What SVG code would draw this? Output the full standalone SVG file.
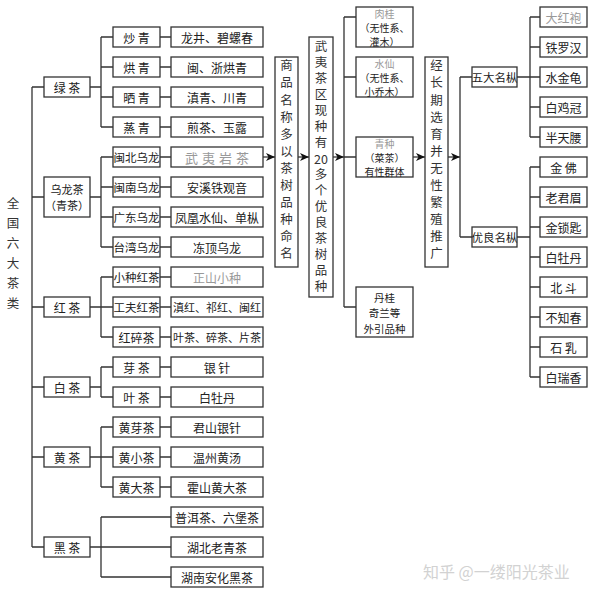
<svg xmlns="http://www.w3.org/2000/svg" width="600" height="594" viewBox="0 0 600 594">
<style>
.b{fill:#fff;stroke:#333;stroke-width:1.3}
.t{font-family:"Noto Sans CJK SC","Noto Sans CJK TC",sans-serif;font-size:12px;fill:#222;text-anchor:middle;dominant-baseline:central}
.s{font-size:11.5px}
.n{font-size:11px}
.m{font-size:10px}
.v{font-size:12.5px;fill:#333}
.vr{writing-mode:vertical-rl;text-orientation:upright}
.g{fill:#999}
.c{fill:none;stroke:#333;stroke-width:1.3}
.w{font-family:"Noto Sans CJK SC",sans-serif;font-size:16px;fill:#d2d2d2}
</style>
<defs>
<marker id="ah" markerUnits="userSpaceOnUse" markerWidth="10" markerHeight="9" refX="9" refY="4" orient="auto">
<path d="M0,0 L9,4 L0,8 L2.5,4 z" fill="#111"/>
</marker>
</defs>
<rect width="600" height="594" fill="#fff"/>

<g id="connectors">
<path class="c" d="M32,87 V547 M32,87 H44 M32,197 H44 M32,307 H44 M32,387 H44 M32,457 H44 M32,547 H44"/>
<path class="c" d="M90,87 H101 M101,37 V127 M101,37 H113 M101,67 H113 M101,97 H113 M101,127 H113"/>
<path class="c" d="M90,197 H101 M101,157 V247 M101,157 H113 M101,187 H113 M101,217 H113 M101,247 H113"/>
<path class="c" d="M90,307 H101 M101,277 V337 M101,277 H113 M101,307 H113 M101,337 H113"/>
<path class="c" d="M90,387 H101 M101,367 V397 M101,367 H113 M101,397 H113"/>
<path class="c" d="M90,457 H101 M101,427 V487 M101,427 H113 M101,457 H113 M101,487 H113"/>
<path class="c" d="M90,547 H101 M101,517 V577 M101,517 H171 M101,547 H171 M101,577 H171"/>
<path class="c" d="M160,37 H171 M160,67 H171 M160,97 H171 M160,127 H171 M160,157 H171 M160,187 H171 M160,217 H171 M160,247 H171 M160,277 H171 M160,307 H171 M160,337 H171 M160,367 H171 M160,397 H171 M160,427 H171 M160,457 H171 M160,487 H171"/>
<path class="c" d="M263,157 H275" marker-end="url(#ah)"/>
<path class="c" d="M298,157 H309" marker-end="url(#ah)"/>
<path class="c" d="M333,157 H344" marker-end="url(#ah)"/>
<path class="c" d="M344,17 V307 M344,17 H356 M344,77 H356 M344,157 H356 M344,307 H356"/>
<path class="c" d="M413,157 H425" marker-end="url(#ah)"/>
<path class="c" d="M448,157 H460" marker-end="url(#ah)"/>
<path class="c" d="M460,77 V237 M460,77 H472 M460,237 H472"/>
<path class="c" d="M517,77 H530 M530,17 V137 M530,17 H540 M530,47 H540 M530,77 H540 M530,107 H540 M530,137 H540"/>
<path class="c" d="M517,237 H530 M530,167 V377 M530,167 H540 M530,197 H540 M530,227 H540 M530,257 H540 M530,287 H540 M530,317 H540 M530,347 H540 M530,377 H540"/>
</g>

<g id="root">
<text class="t v vr" x="13" y="257" style="letter-spacing:7.5px">全国六大茶类</text>
</g>

<g id="l1-lv"><rect class="b" x="44" y="77" width="46" height="20"/><text class="t" x="67" y="87">绿 茶</text></g>
<g id="l1-wulong"><rect class="b" x="44" y="177" width="46" height="40"/><text class="t n"><tspan x="67" y="189">乌龙茶</tspan><tspan x="67" y="205">（青茶）</tspan></text></g>
<g id="l1-hong"><rect class="b" x="44" y="297" width="46" height="20"/><text class="t" x="67" y="307">红 茶</text></g>
<g id="l1-bai"><rect class="b" x="44" y="377" width="46" height="20"/><text class="t" x="67" y="387">白 茶</text></g>
<g id="l1-huang"><rect class="b" x="44" y="447" width="46" height="20"/><text class="t" x="67" y="457">黄 茶</text></g>
<g id="l1-hei"><rect class="b" x="44" y="537" width="46" height="20"/><text class="t" x="67" y="547">黑 茶</text></g>

<g id="l2-chaoqing"><rect class="b" x="113" y="27" width="47" height="20"/><text class="t" x="136.5" y="37">炒 青</text></g>
<g id="l2-hongqing"><rect class="b" x="113" y="57" width="47" height="20"/><text class="t" x="136.5" y="67">烘 青</text></g>
<g id="l2-shaiqing"><rect class="b" x="113" y="87" width="47" height="20"/><text class="t" x="136.5" y="97">晒 青</text></g>
<g id="l2-zhengqing"><rect class="b" x="113" y="117" width="47" height="20"/><text class="t" x="136.5" y="127">蒸 青</text></g>
<g id="l2-minbei"><rect class="b" x="113" y="147" width="47" height="20"/><text class="t s" x="136.5" y="157">闽北乌龙</text></g>
<g id="l2-minnan"><rect class="b" x="113" y="177" width="47" height="20"/><text class="t s" x="136.5" y="187">闽南乌龙</text></g>
<g id="l2-guangdong"><rect class="b" x="113" y="207" width="47" height="20"/><text class="t s" x="136.5" y="217">广东乌龙</text></g>
<g id="l2-taiwan"><rect class="b" x="113" y="237" width="47" height="20"/><text class="t s" x="136.5" y="247">台湾乌龙</text></g>
<g id="l2-xiaozhong"><rect class="b" x="113" y="267" width="47" height="20"/><text class="t s" x="136.5" y="277">小种红茶</text></g>
<g id="l2-gongfu"><rect class="b" x="113" y="297" width="47" height="20"/><text class="t s" x="136.5" y="307">工夫红茶</text></g>
<g id="l2-hongsui"><rect class="b" x="113" y="327" width="47" height="20"/><text class="t" x="136.5" y="337">红碎茶</text></g>
<g id="l2-yacha"><rect class="b" x="113" y="357" width="47" height="20"/><text class="t" x="136.5" y="367">芽 茶</text></g>
<g id="l2-yecha"><rect class="b" x="113" y="387" width="47" height="20"/><text class="t" x="136.5" y="397">叶 茶</text></g>
<g id="l2-huangya"><rect class="b" x="113" y="417" width="47" height="20"/><text class="t" x="136.5" y="427">黄芽茶</text></g>
<g id="l2-huangxiao"><rect class="b" x="113" y="447" width="47" height="20"/><text class="t" x="136.5" y="457">黄小茶</text></g>
<g id="l2-huangda"><rect class="b" x="113" y="477" width="47" height="20"/><text class="t" x="136.5" y="487">黄大茶</text></g>

<g id="l3-1"><rect class="b" x="171" y="27" width="92" height="20"/><text class="t" x="217" y="37">龙井、碧螺春</text></g>
<g id="l3-2"><rect class="b" x="171" y="57" width="92" height="20"/><text class="t" x="217" y="67">闽、浙烘青</text></g>
<g id="l3-3"><rect class="b" x="171" y="87" width="92" height="20"/><text class="t" x="217" y="97">滇青、川青</text></g>
<g id="l3-4"><rect class="b" x="171" y="117" width="92" height="20"/><text class="t" x="217" y="127">煎茶、玉露</text></g>
<g id="l3-5"><rect class="b" x="171" y="147" width="92" height="20"/><text class="t g" x="219" y="157" style="font-size:13px;letter-spacing:4px">武夷岩茶</text></g>
<g id="l3-6"><rect class="b" x="171" y="177" width="92" height="20"/><text class="t" x="217" y="187">安溪铁观音</text></g>
<g id="l3-7"><rect class="b" x="171" y="207" width="92" height="20"/><text class="t" x="217" y="217">凤凰水仙、单枞</text></g>
<g id="l3-8"><rect class="b" x="171" y="237" width="92" height="20"/><text class="t" x="217" y="247">冻顶乌龙</text></g>
<g id="l3-9"><rect class="b" x="171" y="267" width="92" height="20"/><text class="t g" x="217" y="277">正山小种</text></g>
<g id="l3-10"><rect class="b" x="171" y="297" width="92" height="20"/><text class="t n" x="217" y="307">滇红、祁红、闽红</text></g>
<g id="l3-11"><rect class="b" x="171" y="327" width="92" height="20"/><text class="t n" x="217" y="337">叶茶、碎茶、片茶</text></g>
<g id="l3-12"><rect class="b" x="171" y="357" width="92" height="20"/><text class="t" x="217" y="367">银 针</text></g>
<g id="l3-13"><rect class="b" x="171" y="387" width="92" height="20"/><text class="t" x="217" y="397">白牡丹</text></g>
<g id="l3-14"><rect class="b" x="171" y="417" width="92" height="20"/><text class="t" x="217" y="427">君山银针</text></g>
<g id="l3-15"><rect class="b" x="171" y="447" width="92" height="20"/><text class="t" x="217" y="457">温州黄汤</text></g>
<g id="l3-16"><rect class="b" x="171" y="477" width="92" height="20"/><text class="t" x="217" y="487">霍山黄大茶</text></g>
<g id="l3-17"><rect class="b" x="171" y="507" width="92" height="20"/><text class="t" x="217" y="517">普洱茶、六堡茶</text></g>
<g id="l3-18"><rect class="b" x="171" y="537" width="92" height="20"/><text class="t" x="217" y="547">湖北老青茶</text></g>
<g id="l3-19"><rect class="b" x="171" y="567" width="92" height="20"/><text class="t" x="217" y="577">湖南安化黑茶</text></g>

<g id="col-a"><rect class="b" x="275" y="57" width="23" height="210"/>
<text class="t v vr" x="286.5" y="162" style="letter-spacing:4.6px">商品名称多以茶树品种命名</text>
</g>
<g id="col-b"><rect class="b" x="309" y="37" width="24" height="260"/>
<text class="t v vr" x="321" y="96" style="letter-spacing:3.5px">武夷茶区现种有</text>
<text class="t v" x="321" y="158">20</text>
<text class="t v vr" x="321" y="232" style="letter-spacing:3.5px">多个优良茶树品种</text>
</g>

<g id="rougui"><rect class="b" x="356" y="7" width="57" height="40"/><text class="t m"><tspan class="g" x="384.5" y="13">肉桂</tspan><tspan x="384.5" y="27">（无性系、</tspan><tspan x="384.5" y="41">灌木）</tspan></text></g>
<g id="shuixian"><rect class="b" x="356" y="57" width="57" height="40"/><text class="t m"><tspan class="g" x="384.5" y="63">水仙</tspan><tspan x="384.5" y="77">（无性系、</tspan><tspan x="384.5" y="91">小乔木）</tspan></text></g>
<g id="qingzhong"><rect class="b" x="356" y="137" width="57" height="40"/><text class="t m"><tspan class="g" x="384.5" y="143">青种</tspan><tspan x="384.5" y="157">（菜茶）</tspan><tspan x="384.5" y="171">有性群体</tspan></text></g>
<g id="dangui"><rect class="b" x="356" y="287" width="57" height="50"/><text class="t" style="font-size:10.5px"><tspan x="384.5" y="296.5">丹桂</tspan><tspan x="384.5" y="312">奇兰等</tspan><tspan x="384.5" y="327.5">外引品种</tspan></text></g>

<g id="col-d"><rect class="b" x="425" y="57" width="23" height="210"/>
<text class="t v vr" x="436.5" y="162" style="letter-spacing:4.6px">经长期选育并无性繁殖推广</text>
</g>

<g id="wuda"><rect class="b" x="472" y="67" width="45" height="20"/><text class="t s" x="494.5" y="77">五大名枞</text></g>
<g id="youliang"><rect class="b" x="472" y="227" width="45" height="20"/><text class="t s" x="494.5" y="237">优良名枞</text></g>

<g id="dahongpao"><rect class="b" x="540" y="7" width="47" height="20"/><text class="t g" x="563.5" y="17">大红袍</text></g>
<g id="tieluohan"><rect class="b" x="540" y="37" width="47" height="20"/><text class="t" x="563.5" y="47">铁罗汉</text></g>
<g id="shuijingui"><rect class="b" x="540" y="67" width="47" height="20"/><text class="t" x="563.5" y="77">水金龟</text></g>
<g id="baijiguan"><rect class="b" x="540" y="97" width="47" height="20"/><text class="t" x="563.5" y="107">白鸡冠</text></g>
<g id="bantianyao"><rect class="b" x="540" y="127" width="47" height="20"/><text class="t" x="563.5" y="137">半天腰</text></g>
<g id="jinfo"><rect class="b" x="540" y="157" width="47" height="20"/><text class="t" x="563.5" y="167">金 佛</text></g>
<g id="laojunmei"><rect class="b" x="540" y="187" width="47" height="20"/><text class="t" x="563.5" y="197">老君眉</text></g>
<g id="jinsuochi"><rect class="b" x="540" y="217" width="47" height="20"/><text class="t" x="563.5" y="227">金锁匙</text></g>
<g id="baimudan"><rect class="b" x="540" y="247" width="47" height="20"/><text class="t" x="563.5" y="257">白牡丹</text></g>
<g id="beidou"><rect class="b" x="540" y="277" width="47" height="20"/><text class="t" x="563.5" y="287">北 斗</text></g>
<g id="buzhichun"><rect class="b" x="540" y="307" width="47" height="20"/><text class="t" x="563.5" y="317">不知春</text></g>
<g id="shiru"><rect class="b" x="540" y="337" width="47" height="20"/><text class="t" x="563.5" y="347">石 乳</text></g>
<g id="bairuixiang"><rect class="b" x="540" y="367" width="47" height="20"/><text class="t" x="563.5" y="377">白瑞香</text></g>

<text class="w" x="423" y="578">知乎 @一缕阳光茶业</text>
</svg>
